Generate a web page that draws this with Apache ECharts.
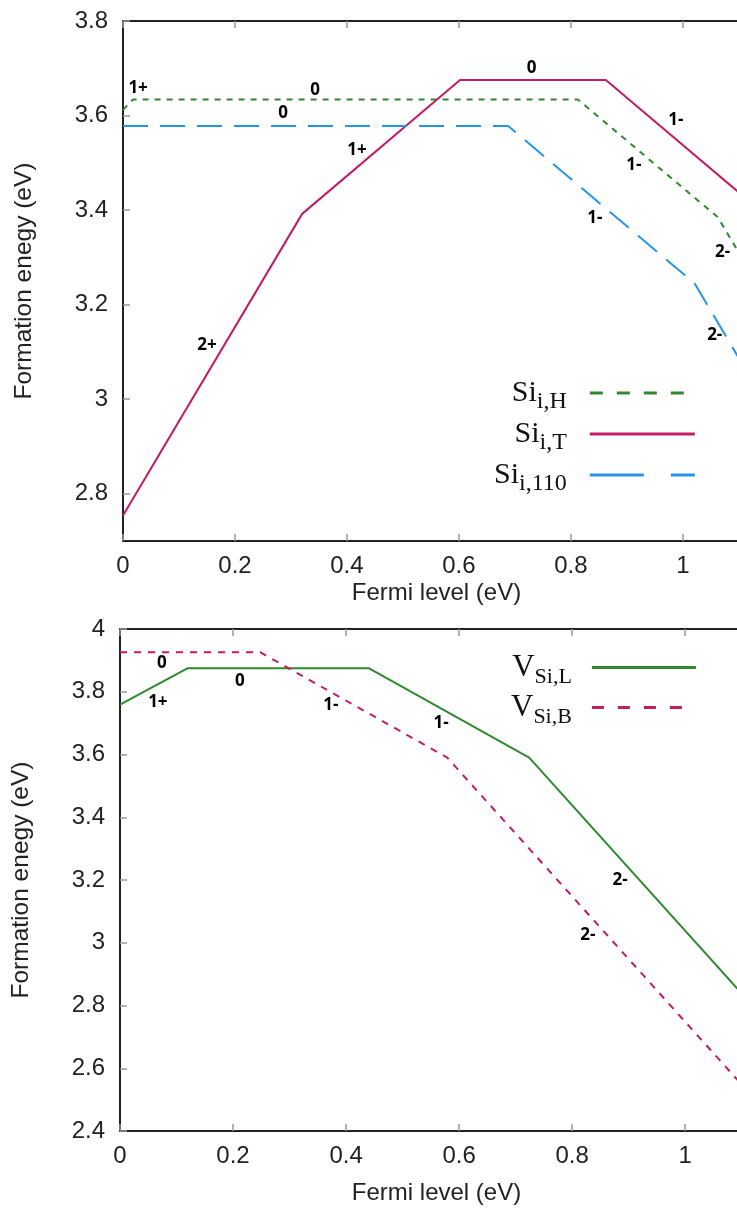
<!DOCTYPE html>
<html>
<head>
<meta charset="utf-8">
<script src="https://cdn.jsdelivr.net/npm/echarts@6/dist/echarts.min.js"></script>
<style>
html,body{margin:0;padding:0;background:#fff;overflow:hidden;}
#chart{width:737px;height:1209px;}
</style>
</head>
<body>
<div id="chart"></div>
<script>
// ---------- data ----------
const xTicks = [0, 0.2, 0.4, 0.6, 0.8, 1];
const yTicksTop = [2.8, 3, 3.2, 3.4, 3.6, 3.8];
const yTicksBottom = [2.4, 2.6, 2.8, 3, 3.2, 3.4, 3.6, 3.8, 4];

const topNames = ['Si_i,H', 'Si_i,T', 'Si_i,110'];
const bottomNames = ['V_Si,L', 'V_Si,B'];

// Fermi level (eV), formation energy (eV)
const siH   = [[0, 3.612], [0.018, 3.634], [0.8125, 3.634], [1.0625, 3.385], [1.12, 3.27]];
const siT   = [[0, 2.754], [0.32, 3.392], [0.602, 3.675], [0.8625, 3.675], [1.12, 3.4175]];
const si110 = [[0, 3.578], [0.688, 3.578], [1.021, 3.245], [1.12, 3.047]];
const vSiL  = [[0, 3.759], [0.12, 3.875], [0.44, 3.875], [0.724, 3.59], [1.12, 2.798]];
const vSiB  = [[0, 3.926], [0.248, 3.926], [0.579, 3.59], [1.12, 2.508]];

// charge-state annotations [x, y, text]
const topLabels = [
  [0.027, 3.658, '1+'], [0.343, 3.654, '0'], [0.286, 3.605, '0'], [0.418, 3.527, '1+'],
  [0.15, 3.114, '2+'], [0.730, 3.700, '0'], [0.9875, 3.590, '1-'], [0.9125, 3.495, '1-'],
  [0.843, 3.383, '1-'], [1.071, 3.311, '2-'], [1.057, 3.135, '2-']
];
const bottomLabels = [
  [0.074, 3.891, '0'], [0.067, 3.767, '1+'], [0.212, 3.834, '0'], [0.373, 3.757, '1-'],
  [0.568, 3.700, '1-'], [0.885, 3.198, '2-'], [0.828, 3.023, '2-']
];

// ---------- styling ----------
const GREEN = '#2f8a2f', PINK = '#c21c64', BLUE = '#2496e6';
const sans = 'Liberation Sans, Arial, sans-serif';
const richTop = {
  m: {fontFamily: 'Liberation Serif', fontSize: 30, color: '#111', lineHeight: 30, verticalAlign: 'top'},
  s: {fontFamily: 'Liberation Serif', fontSize: 24, color: '#111', lineHeight: 24, padding: [12, 0, 0, 0], verticalAlign: 'top'}
};
const richBottom = {
  m: {fontFamily: 'Liberation Serif', fontSize: 31, color: '#111', lineHeight: 31, verticalAlign: 'top'},
  s: {fontFamily: 'Liberation Serif', fontSize: 22, color: '#111', lineHeight: 22, padding: [14, 0, 0, 0], verticalAlign: 'top'}
};
function legendFmt(name) {
  const p = name.split('_');
  return '{m|' + p[0] + '}{s|' + p[1] + '}';
}

const chart = echarts.init(document.getElementById('chart'), null, {renderer: 'canvas'});

function xMain(gi, gap) {
  return {
    gridIndex: gi, type: 'value', min: 0, max: 1.12, position: 'bottom',
    name: 'Fermi level (eV)', nameLocation: 'middle', nameGap: gap,
    nameTextStyle: {fontFamily: sans, fontSize: 24, color: '#222'},
    axisLine: {show: true, onZero: false, lineStyle: {color: '#222', width: 2}},
    axisTick: {show: true, inside: true, length: 7, lineStyle: {color: '#999', width: 1.5}, customValues: xTicks},
    axisLabel: {fontFamily: sans, fontSize: 24, color: '#222', margin: 13, customValues: xTicks},
    splitLine: {show: false}
  };
}
function xMirror(gi) {
  return {
    gridIndex: gi, type: 'value', min: 0, max: 1.12, position: 'top',
    axisLine: {show: true, onZero: false, lineStyle: {color: '#222', width: 2}},
    axisTick: {show: true, inside: true, length: 7, lineStyle: {color: '#999', width: 1.5}, customValues: xTicks},
    axisLabel: {show: false}, splitLine: {show: false}
  };
}
function yMain(gi, min, max, ticks) {
  return {
    gridIndex: gi, type: 'value', min: min, max: max, position: 'left',
    name: 'Formation enegy (eV)', nameLocation: 'middle', nameGap: 86,
    nameTextStyle: {fontFamily: sans, fontSize: 24.5, color: '#222'},
    axisLine: {show: true, onZero: false, lineStyle: {color: '#222', width: 2}},
    axisTick: {show: true, inside: true, length: 7, lineStyle: {color: '#999', width: 1.5}, customValues: ticks},
    axisLabel: {fontFamily: sans, fontSize: 24, color: '#222', margin: 15, customValues: ticks},
    splitLine: {show: false}
  };
}
function labelSeries(xi, yi, data) {
  return {
    type: 'scatter', xAxisIndex: xi, yAxisIndex: yi, data: data,
    symbolSize: 1, itemStyle: {color: 'rgba(0,0,0,0)'}, silent: true, z: 5,
    label: {show: true, position: 'inside', formatter: p => p.data[2],
      fontFamily: 'Open Sans, DejaVu Sans, sans-serif', fontWeight: 'bold', fontSize: 17,
      color: '#000', textBorderWidth: 0, opacity: 1}
  };
}
function lineSeries(name, xi, yi, data, color, type) {
  return {
    name: name, type: 'line', xAxisIndex: xi, yAxisIndex: yi, data: data,
    symbol: 'none', lineStyle: {color: color, width: 2, type: type}, itemStyle: {color: color},
    animation: false, z: 3
  };
}
const hiddenSym = {color: 'rgba(0,0,0,0)', borderWidth: 0};

const option = {
  animation: false,
  backgroundColor: '#fff',
  grid: [
    {left: 123, top: 21, width: 627, height: 520, outerBoundsMode: 'none', containLabel: false},
    {left: 120, top: 629, width: 633, height: 502, outerBoundsMode: 'none', containLabel: false}
  ],
  xAxis: [xMain(0, 40), xMirror(0), xMain(1, 50), xMirror(1)],
  yAxis: [yMain(0, 2.7, 3.8, yTicksTop), yMain(1, 2.4, 4, yTicksBottom)],
  legend: [
    {
      orient: 'vertical', align: 'right', left: 494, top: 378, padding: 0,
      itemWidth: 105, itemHeight: 30, itemGap: 5, selectedMode: false,
      formatter: legendFmt, itemStyle: hiddenSym,
      textStyle: {padding: [0, 18, 0, 0], align: 'right', rich: richTop},
      data: [
        {name: topNames[0], itemStyle: hiddenSym, lineStyle: {width: 3, type: [13, 14]}},
        {name: topNames[1], itemStyle: hiddenSym, lineStyle: {width: 3}},
        {name: topNames[2], itemStyle: hiddenSym, lineStyle: {width: 3, type: [54, 27]}}
      ]
    },
    {
      orient: 'vertical', align: 'right', left: 511, top: 652, padding: 0,
      itemWidth: 104, itemHeight: 30, itemGap: 4, selectedMode: false,
      formatter: legendFmt, itemStyle: hiddenSym,
      textStyle: {padding: [0, 15, 0, 0], align: 'right', rich: richBottom},
      data: [
        {name: bottomNames[0], itemStyle: hiddenSym, lineStyle: {width: 3}},
        {name: bottomNames[1], itemStyle: hiddenSym, lineStyle: {width: 3, type: [12, 14]}}
      ]
    }
  ],
  series: [
    lineSeries(topNames[0], 0, 0, siH, GREEN, [6, 6]),
    lineSeries(topNames[1], 0, 0, siT, PINK, 'solid'),
    lineSeries(topNames[2], 0, 0, si110, BLUE, [25, 12]),
    labelSeries(0, 0, topLabels),
    lineSeries(bottomNames[0], 2, 1, vSiL, GREEN, 'solid'),
    lineSeries(bottomNames[1], 2, 1, vSiB, PINK, [7, 7]),
    labelSeries(2, 1, bottomLabels)
  ]
};
chart.setOption(option);
</script>
</body>
</html>
